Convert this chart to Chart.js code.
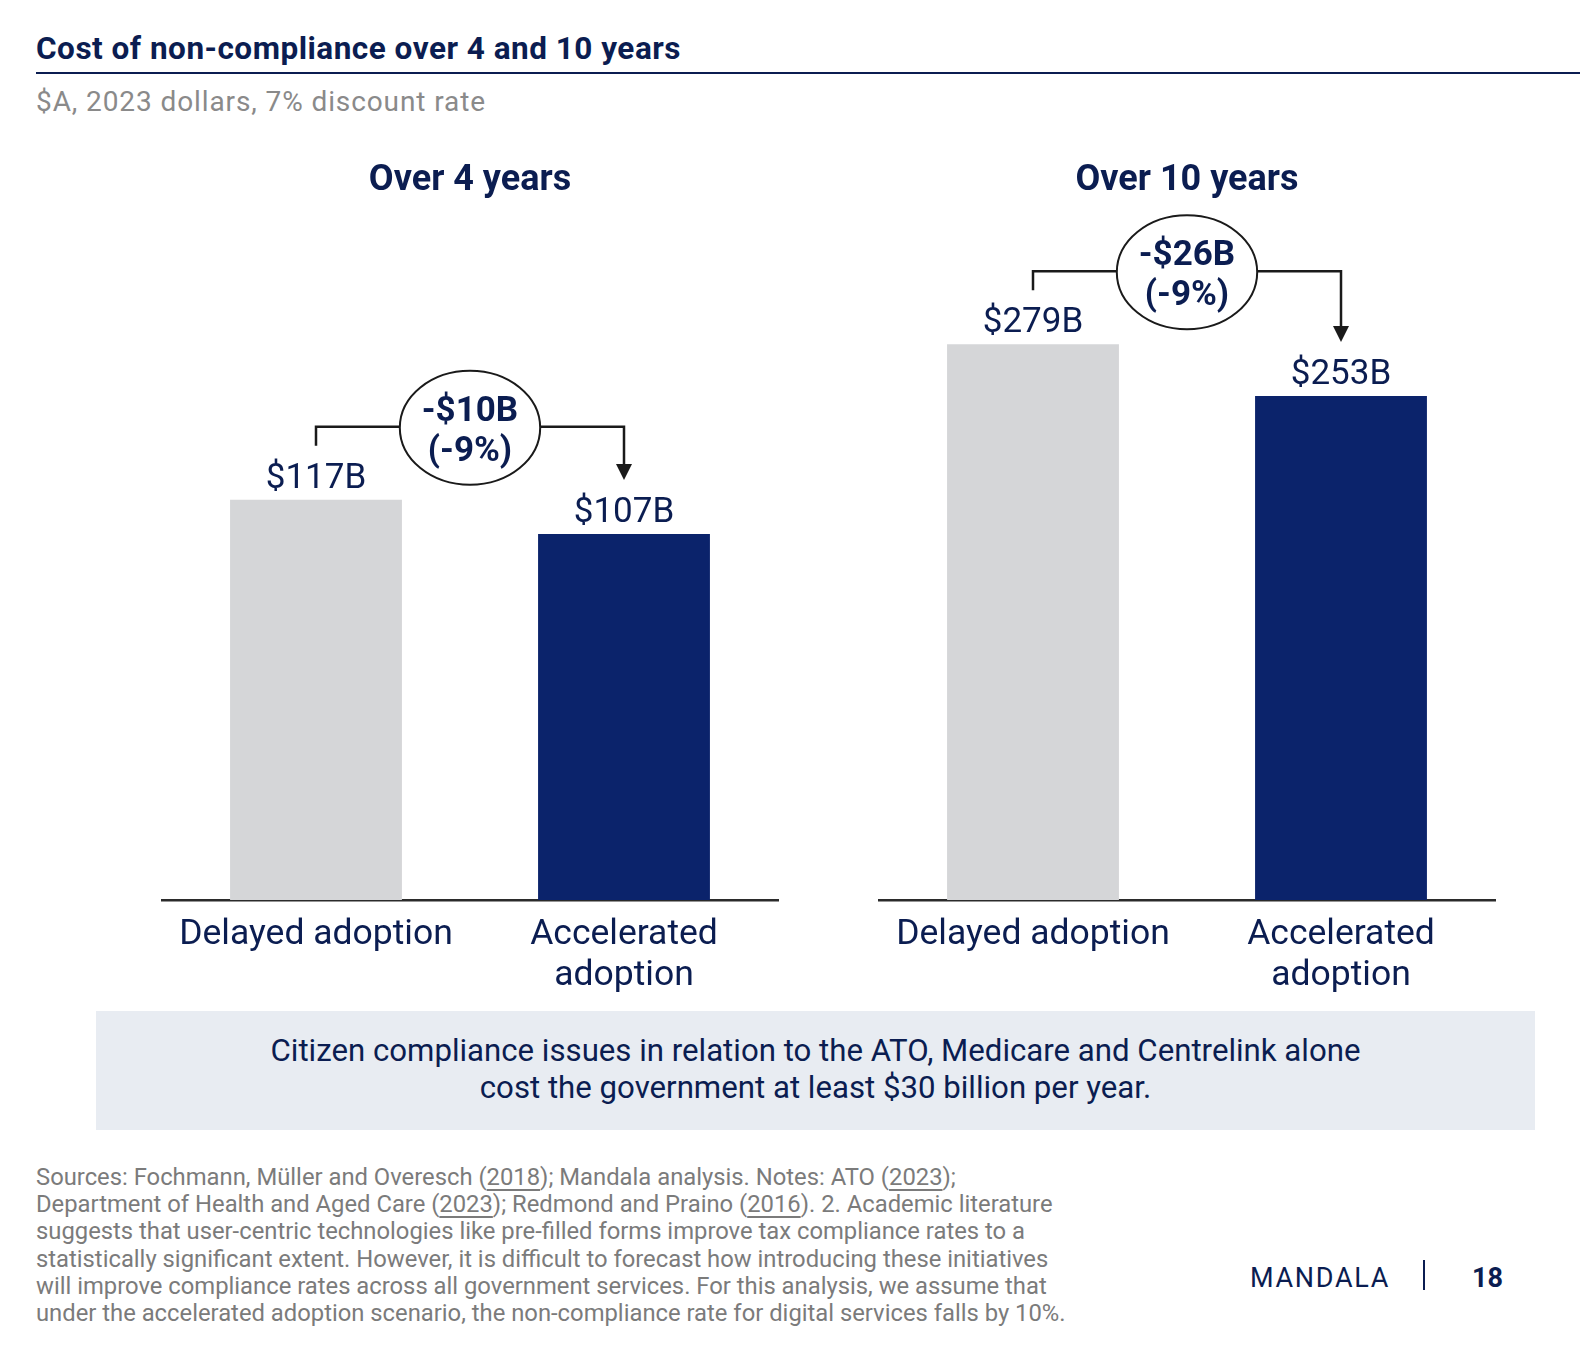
<!DOCTYPE html>
<html>
<head>
<meta charset="utf-8">
<script src="https://cdn.jsdelivr.net/npm/chart.js@4.4.1/dist/chart.umd.min.js"></script>
<style>
  body { margin: 0; background: #fff; font-family: Roboto, sans-serif; }
  .page { position: relative; width: 1580px; height: 1356px; overflow: hidden; }
  .title { position: absolute; left: 36px; top: 30px; font-size: 31.5px; line-height: 38px; font-weight: 700; color: #0b1d51; letter-spacing: 0.5px; }
  .rule { position: absolute; left: 36px; right: 0; top: 72px; height: 2px; background: #0b1d51; }
  .subtitle { position: absolute; left: 36px; top: 85px; font-size: 28px; line-height: 34px; color: #8a8a8a; letter-spacing: 0.9px; }
  canvas { position: absolute; top: 140px; }
  #chart4 { left: 100px; }
  #chart10 { left: 817px; }
  .callout { position: absolute; left: 96px; top: 1011px; width: 1439px; height: 119px; background: #e8ecf2;
             display: flex; align-items: center; justify-content: center; text-align: center;
             font-size: 31.2px; line-height: 37px; color: #0b1d51; padding-bottom: 3px; box-sizing: border-box; }
  .notes { position: absolute; left: 36px; top: 1164px; font-size: 23.8px; line-height: 27.2px; color: #7b7b7b; }
  .notes u { text-underline-offset: 4px; text-decoration-thickness: 2px; }
  .brand { position: absolute; left: 1250px; top: 1262px; font-size: 27px; line-height: 32px; letter-spacing: 1.7px; color: #0b1d51; }
  .divider { position: absolute; left: 1423px; top: 1260px; width: 2px; height: 30px; background: #0b1d51; }
  .pageno { position: absolute; left: 1472px; top: 1262px; font-size: 27px; line-height: 32px; font-weight: 700; color: #0b1d51; }
</style>
</head>
<body>
<div class="page">
  <div class="title">Cost of non-compliance over 4 and 10 years</div>
  <div class="rule"></div>
  <div class="subtitle">$A, 2023 dollars, 7% discount rate</div>

  <canvas id="chart4" width="740" height="880"></canvas>
  <canvas id="chart10" width="740" height="880"></canvas>

  <div class="callout">Citizen compliance issues in relation to the ATO, Medicare and Centrelink alone<br>cost the government at least $30 billion per year.</div>

  <div class="notes">
    Sources: Fochmann, Müller and Overesch (<u>2018</u>); Mandala analysis. Notes: ATO (<u>2023</u>);<br>
    Department of Health and Aged Care (<u>2023</u>); Redmond and Praino (<u>2016</u>). 2. Academic literature<br>
    suggests that user-centric technologies like pre-filled forms improve tax compliance rates to a<br>
    statistically significant extent. However, it is difficult to forecast how introducing these initiatives<br>
    will improve compliance rates across all government services. For this analysis, we assume that<br>
    under the accelerated adoption scenario, the non-compliance rate for digital services falls by 10%.
  </div>

  <div class="brand">MANDALA</div>
  <div class="divider"></div>
  <div class="pageno">18</div>
</div>

<script>
const scenarios = [["Delayed adoption"], ["Accelerated", "adoption"]];
const over4Years = [117, 107];
const over10Years = [279, 253];
const panelTitles = ["Over 4 years", "Over 10 years"];

const NAVY = "#0b236b";
const TEXT = "#0b1d51";
const GREY = "#d5d6d8";

Chart.defaults.font.family = "Roboto";

// value labels + the bracket / ellipse showing the change between the two bars
const annotate = {
  id: "annotate",
  afterDatasetsDraw(chart) {
    const { ctx, scales: { x, y } } = chart;
    const vals = chart.data.datasets[0].data;

    ctx.save();
    ctx.fillStyle = TEXT;
    ctx.textAlign = "center";
    ctx.textBaseline = "middle";
    ctx.font = "35px Roboto";
    vals.forEach((v, i) => {
      ctx.fillText(`$${v}B`, x.getPixelForValue(i), y.getPixelForValue(v) - 21);
    });

    const x0 = x.getPixelForValue(0);
    const x1 = x.getPixelForValue(1);
    const top = y.getPixelForValue(Math.max(...vals)) - 73;
    const tip = y.getPixelForValue(vals[1]) - 54;

    ctx.strokeStyle = "#1a1a1a";
    ctx.fillStyle = "#1a1a1a";
    ctx.lineWidth = 2.5;
    ctx.beginPath();
    ctx.moveTo(x0, top + 19);
    ctx.lineTo(x0, top);
    ctx.lineTo(x1, top);
    ctx.lineTo(x1, tip - 14);
    ctx.stroke();
    ctx.beginPath();
    ctx.moveTo(x1 - 8, tip - 16);
    ctx.lineTo(x1 + 8, tip - 16);
    ctx.lineTo(x1, tip);
    ctx.closePath();
    ctx.fill();

    const diff = vals[1] - vals[0];
    const pct = Math.round((diff / vals[0]) * 100);
    const line1 = `${diff < 0 ? "-" : "+"}$${Math.abs(diff)}B`;
    const line2 = `(${pct}%)`;
    ctx.font = "bold 35px Roboto";
    const w = Math.max(ctx.measureText(line1).width, ctx.measureText(line2).width);
    const mid = (x0 + x1) / 2;

    ctx.beginPath();
    ctx.ellipse(mid, top + 1, w / 2 + 22, 57, 0, 0, Math.PI * 2);
    ctx.fillStyle = "#fff";
    ctx.fill();
    ctx.lineWidth = 2;
    ctx.strokeStyle = "#1a1a1a";
    ctx.stroke();

    ctx.fillStyle = TEXT;
    ctx.fillText(line1, mid, top - 15);
    ctx.fillText(line2, mid, top + 25);
    ctx.restore();
  },
};

function makePanel(id, title, values, yMax) {
  new Chart(document.getElementById(id), {
    type: "bar",
    data: {
      labels: scenarios,
      datasets: [
        {
          data: values,
          backgroundColor: [GREY, NAVY],
          borderWidth: 0,
          barPercentage: 0.558,
          categoryPercentage: 1,
        },
      ],
    },
    options: {
      responsive: false,
      animation: false,
      layout: { padding: { left: 62, right: 62, top: 0, bottom: 0 } },
      plugins: {
        legend: { display: false },
        tooltip: { enabled: false },
        title: {
          display: true,
          text: title,
          color: TEXT,
          font: { size: 36, weight: "bold" },
          padding: { top: 19, bottom: 0 },
        },
      },
      scales: {
        y: { display: false, min: 0, max: yMax },
        x: {
          grid: { display: false, drawTicks: false },
          border: { color: "#2b2b2b", width: 2.5 },
          ticks: {
            color: TEXT,
            font: { size: 35.5, lineHeight: 1.15 },
            padding: 15,
            maxRotation: 0,
            autoSkip: false,
          },
          afterFit: (scale) => {
            scale.height = 120;
          },
        },
      },
    },
    plugins: [annotate],
  });
}

makePanel("chart4", panelTitles[0], over4Years, 204);
makePanel("chart10", panelTitles[1], over10Years, 350.3);
</script>
</body>
</html>
